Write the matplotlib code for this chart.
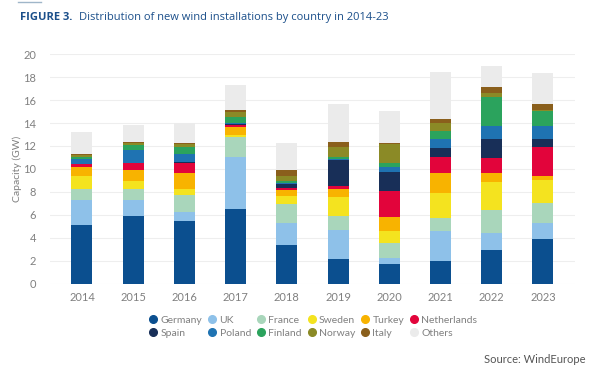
import numpy as np
import matplotlib
matplotlib.use('Agg')
import matplotlib.pyplot as plt
from matplotlib.lines import Line2D

plt.rcParams['font.family'] = ['Lato', 'DejaVu Sans']

years = ['2014', '2015', '2016', '2017', '2018', '2019', '2020', '2021', '2022', '2023']
countries = ['Germany', 'UK', 'France', 'Sweden', 'Turkey', 'Netherlands',
             'Spain', 'Poland', 'Finland', 'Norway', 'Italy', 'Others']
colors = ['#0b4f8f', '#8ec1e9', '#a9d6bb', '#f4e31f', '#f8b300', '#e2043b',
          '#182f58', '#1f73b2', '#2ba35d', '#8b8a26', '#8a5f1c', '#ebebeb']

# GW per country per year
germany = [5.13, 5.94, 5.42, 6.52, 3.33, 2.17, 1.68, 1.94, 2.90, 3.88]
uk = [2.12, 1.31, 0.81, 4.55, 2.00, 2.47, 0.58, 2.61, 1.51, 1.40]
france = [1.01, 1.01, 1.54, 1.68, 1.57, 1.30, 1.28, 1.16, 2.02, 1.73]
sweden = [1.10, 0.67, 0.49, 0.24, 0.78, 1.65, 1.01, 2.20, 2.41, 2.03]
turkey = [0.84, 0.98, 1.42, 0.69, 0.49, 0.67, 1.25, 1.77, 0.78, 0.38]
netherlands = [0.20, 0.58, 0.84, 0.18, 0.15, 0.26, 2.26, 1.33, 1.34, 2.46]
spain = [0.05, 0.02, 0.04, 0.05, 0.38, 2.26, 1.71, 0.85, 1.65, 0.73]
poland = [0.42, 1.17, 0.74, 0.09, 0.08, 0.06, 0.43, 0.75, 1.13, 1.16]
finland = [0.20, 0.44, 0.64, 0.55, 0.15, 0.23, 0.32, 0.69, 2.49, 1.30]
norway = [0.12, 0.10, 0.23, 0.44, 0.49, 0.81, 1.65, 0.67, 0.41, 0.06]
italy = [0.11, 0.16, 0.13, 0.17, 0.49, 0.47, 0.12, 0.38, 0.46, 0.52]
others = [1.90, 1.49, 1.74, 2.17, 2.32, 3.30, 2.72, 4.14, 1.83, 2.73]

series = [germany, uk, france, sweden, turkey, netherlands,
          spain, poland, finland, norway, italy, others]

fig = plt.figure(figsize=(6.02, 3.87), dpi=100)
ax = fig.add_axes((0.083, 0.267, 0.872, 0.593))

x = np.arange(len(years))
bottom = np.zeros(len(years))
for name, vals, c in zip(countries, series, colors):
    ax.bar(x, vals, bottom=bottom, width=0.41, color=c, label=name, zorder=2)
    bottom += np.array(vals)

ax.set_xlim(-0.625, len(years) - 0.375)
ax.set_ylim(0, 20)
ax.set_yticks(range(0, 21, 2))
ax.set_xticks(x)
ax.set_xticklabels(years)
ax.grid(axis='y', color='#eeeeee', linewidth=0.8, zorder=0)
for sp in ax.spines.values():
    sp.set_visible(False)
ax.tick_params(length=0, labelsize=8, colors='#808080', pad=6)
ax.tick_params(axis='y', pad=10)
ax.set_ylabel('Capacity (GW)', fontsize=7.5, color='#808080', labelpad=1)

# title
t1 = fig.text(0.033, 0.955, 'FIGURE 3.', fontsize=8, fontweight='bold', color='#1b4f8a',
              family=['Open Sans', 'DejaVu Sans'], va='center')
fig.canvas.draw()
bb = t1.get_window_extent().transformed(fig.transFigure.inverted())
fig.text(bb.x1 + 0.012, 0.955, 'Distribution of new wind installations by country in 2014-23',
         fontsize=8, color='#1b4f8a', family=['Open Sans', 'DejaVu Sans'], va='center')
fig.add_artist(Line2D([0.03, 0.068], [0.995, 0.995], color='#9fb6c9', linewidth=1))

# legend, filled column by column
order = [0, 6, 1, 7, 2, 8, 3, 9, 4, 10, 5, 11]
handles = [Line2D([], [], marker='o', linestyle='none', markersize=5.5,
                  markerfacecolor=colors[i], markeredgecolor=colors[i]) for i in order]
labels = [countries[i] for i in order]
leg = fig.legend(handles, labels, ncol=6, loc='center', bbox_to_anchor=(0.52, 0.156),
                 frameon=False, fontsize=7.5, handletextpad=0.25, columnspacing=0.5,
                 handlelength=0.9, labelspacing=0.35)
for t in leg.get_texts():
    t.set_color('#808080')

fig.text(0.972, 0.072, 'Source: WindEurope', fontsize=8, color='#555555', ha='right', va='center')

fig.savefig('out.png', dpi=100)
